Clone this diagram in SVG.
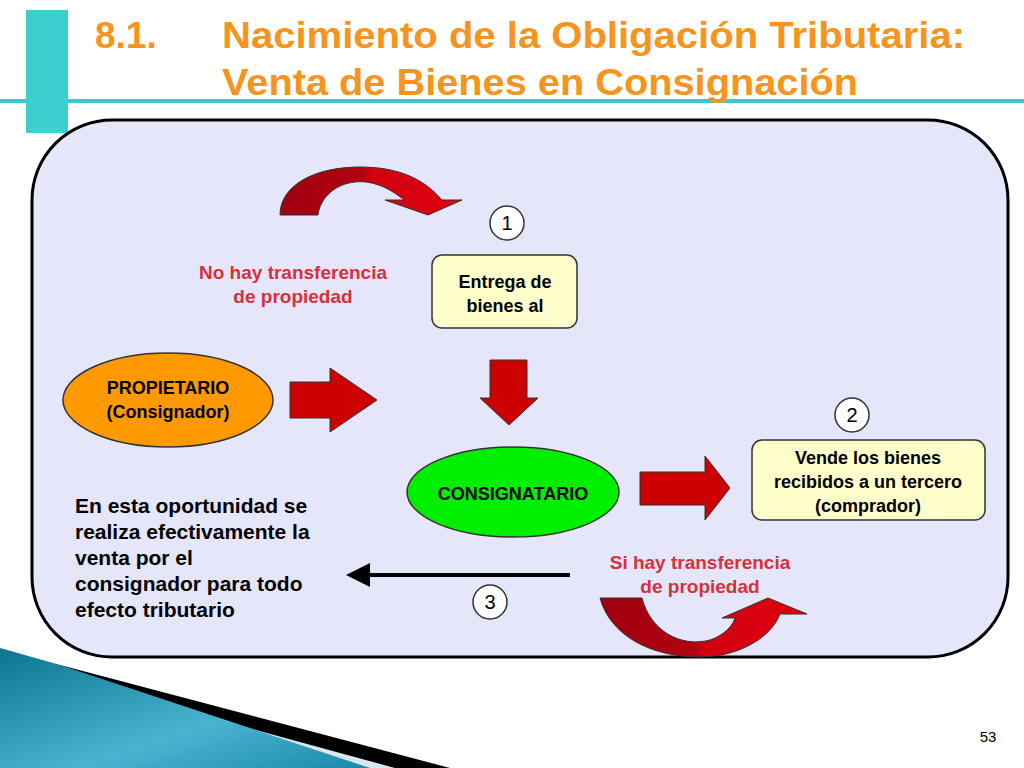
<svg xmlns="http://www.w3.org/2000/svg" width="1024" height="768" viewBox="0 0 1024 768">
<style>
.t{font-family:"Liberation Sans",Arial,sans-serif;font-weight:bold}
.title{font-size:37px;fill:#F7941D}
.n{font-size:18px;fill:#000;text-anchor:middle}
.r{font-size:19px;fill:#D6303A;text-anchor:middle}
.c{font-family:"Liberation Sans",Arial,sans-serif;font-size:20px;text-anchor:middle;fill:#000}
.box{fill:#FFFFCC;stroke:#333;stroke-width:1.5}
.blk{fill:#CC0000;stroke:#333;stroke-width:1}
</style>
<defs>
<linearGradient id="cg" x1="0" x2="1" y1="0" y2="0"><stop offset="0" stop-color="#A00010"/><stop offset="0.45" stop-color="#B00010"/><stop offset="0.5" stop-color="#D00010"/><stop offset="1" stop-color="#E00010"/></linearGradient>
<linearGradient id="bl" x1="0" x2="1" y1="0" y2="1"><stop offset="0" stop-color="#0B7590"/><stop offset="0.6" stop-color="#4AB3D0"/><stop offset="1" stop-color="#1A8AA8"/></linearGradient>
<marker id="ah" markerWidth="6" markerHeight="6" refX="3" refY="3" orient="auto" markerUnits="strokeWidth"><path d="M0,0 L6,3 L0,6 Z" fill="#000"/></marker>
</defs>
<rect width="1024" height="768" fill="#fff"/>
<rect x="0" y="99" width="1024" height="4" fill="#3CC8C8"/>
<rect x="26" y="10" width="42" height="123" fill="#3CCFCF"/>
<text class="t title" x="95" y="48">8.1.</text>
<text class="t title" x="222" y="48" textLength="743" lengthAdjust="spacingAndGlyphs">Nacimiento de la Obligación Tributaria:</text>
<text class="t title" x="222" y="95" textLength="636" lengthAdjust="spacingAndGlyphs">Venta de Bienes en Consignación</text>
<rect x="32" y="120" width="976" height="537" rx="80" fill="#E6E6FA" stroke="#000" stroke-width="3"/>
<polygon points="0,768 0,648 60,665 450,768" fill="#D8E8EE"/>
<polygon points="60,665 450,768 395,768 0,660" fill="#000"/>
<polygon points="0,648 0,768 370,768 60,665" fill="url(#bl)"/>
<g id="connectors">
<path d="M280,215 C280,185 315,167 360,167 C400,167 425,180 442,200 L462,200 L428,215 L385,200 L404,200 C390,188 372,180 355,182 C335,184 320,198 318,215 Z" fill="url(#cg)" stroke="#333"/>
<path d="M600,598 L642,598 C650,630 680,648 710,640 C725,635 733,625 735,618 L722,618 L768,598 L807,614 L780,614 C770,640 735,657 700,657 C650,657 610,635 600,598 Z" fill="url(#cg)" stroke="#333"/>
<polygon class="blk" points="490,360 527,360 527,398 538,398 509,425 480,398 490,398"/>
<polygon class="blk" points="290,382 330,382 330,368 377,400 330,432 330,418 290,418"/>
<polygon class="blk" points="640,472 705,472 705,456 730,488 705,520 705,505 640,505"/>
<line x1="570" y1="575" x2="358" y2="575" stroke="#000" stroke-width="4" marker-end="url(#ah)"/>
</g>
<g id="n1"><circle cx="507" cy="223" r="17" fill="#fff" stroke="#333" stroke-width="1.5"/><text class="c" x="507" y="230">1</text></g>
<g id="n2"><circle cx="852" cy="415" r="17" fill="#fff" stroke="#333" stroke-width="1.5"/><text class="c" x="852" y="422">2</text></g>
<g id="n3"><circle cx="490" cy="602" r="17" fill="#fff" stroke="#333" stroke-width="1.5"/><text class="c" x="490" y="609">3</text></g>
<g id="lbl1"><text class="t r" x="293" y="279">No hay transferencia</text><text class="t r" x="293" y="303">de propiedad</text></g>
<g id="lbl2"><text class="t r" x="700" y="569">Si hay transferencia</text><text class="t r" x="700" y="593">de propiedad</text></g>
<g id="entrega"><rect class="box" x="432" y="255" width="145" height="73" rx="10"/><text class="t n" x="505" y="288">Entrega de</text><text class="t n" x="505" y="312">bienes al</text></g>
<g id="propietario"><ellipse cx="168" cy="400" rx="105" ry="47" fill="#FF9900" stroke="#333" stroke-width="1.5"/><text class="t n" x="168" y="394">PROPIETARIO</text><text class="t n" x="168" y="418">(Consignador)</text></g>
<g id="consignatario"><ellipse cx="513" cy="492" rx="106" ry="45" fill="#00EE00" stroke="#333" stroke-width="1.5"/><text class="t n" x="513" y="500">CONSIGNATARIO</text></g>
<g id="vende"><rect class="box" x="752" y="440" width="233" height="80" rx="10"/><text class="t n" x="868" y="464">Vende los bienes</text><text class="t n" x="868" y="488">recibidos a un tercero</text><text class="t n" x="868" y="512">(comprador)</text></g>
<g id="nota" class="t" style="font-size:21px"><text x="75" y="513">En esta oportunidad se</text><text x="75" y="539">realiza efectivamente la</text><text x="75" y="565">venta por el</text><text x="75" y="591">consignador para todo</text><text x="75" y="617">efecto tributario</text></g>
<text x="988" y="742" style="font-family:'Liberation Sans',Arial,sans-serif;font-size:15px" text-anchor="middle">53</text>
</svg>
